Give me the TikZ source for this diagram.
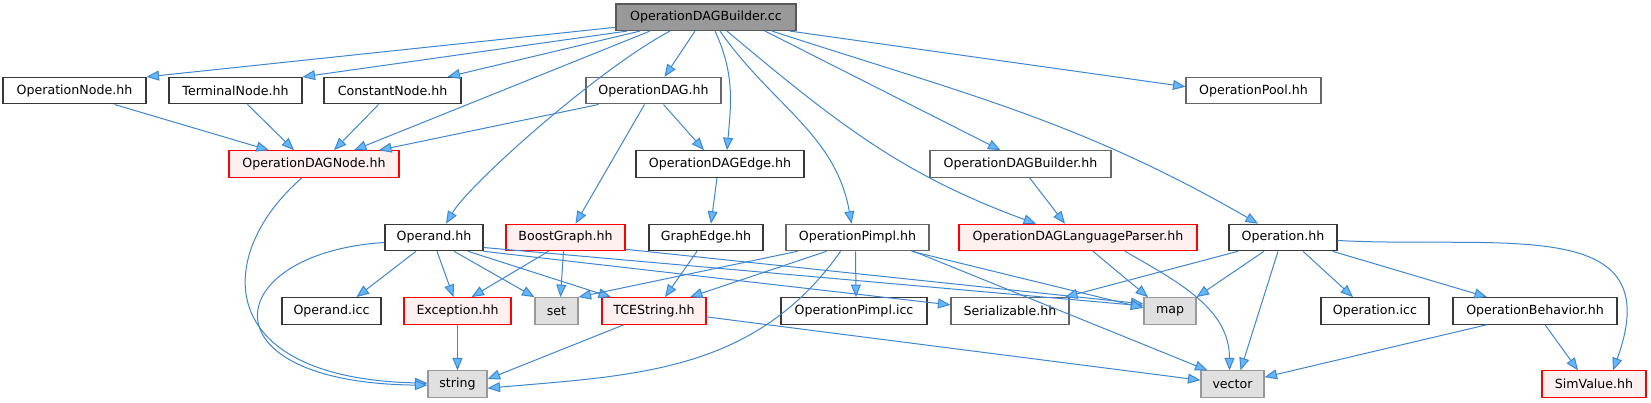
\documentclass[tikz,border=0pt]{standalone}
\usepackage{fontspec}
\setmainfont{DejaVu Sans}
\usepackage{tikz}
\usetikzlibrary{arrows.meta,calc}

\definecolor{edgeblue}{HTML}{3F86CF}
\definecolor{tipblue}{HTML}{63B8FF}
\definecolor{rootfill}{HTML}{999999}
\definecolor{sysfill}{HTML}{E0E0E0}
\definecolor{truncfill}{HTML}{FFF0F0}

\tikzset{
  filebox/.style={draw=black!60, fill=white, line width=1.1pt, minimum height=26.5pt,
    inner sep=0pt, font=\fontsize{12.6}{15}\selectfont},
  darkbox/.style={filebox, draw=black!78},
  rootbox/.style={filebox, draw=black!65, fill=rootfill},
  truncbox/.style={filebox, draw=red, fill=truncfill},
  sysbox/.style={filebox, draw=black!40, fill=sysfill},
  incl/.style={draw=edgeblue, line width=1pt,
    -{Triangle[length=12.5pt,width=10pt,fill=tipblue]}}
}

\begin{document}
\begin{tikzpicture}[x=1pt,y=1pt]

\useasboundingbox (0,0) rectangle (1651,403);

\node[rootbox, minimum width=180pt] (builderCC) at (706, 385.7) {OperationDAGBuilder.cc};

\node[darkbox, minimum width=143pt] (opNode) at (74.5, 312.3) {OperationNode.hh};
\node[darkbox, minimum width=133pt] (termNode) at (235.5, 312.3) {TerminalNode.hh};
\node[darkbox, minimum width=137pt] (constNode) at (392.5, 312.3) {ConstantNode.hh};
\node[filebox, minimum width=135pt] (opDAG) at (653.5, 312.3) {OperationDAG.hh};
\node[filebox, minimum width=135pt] (opPool) at (1253.5, 312.3) {OperationPool.hh};

\node[truncbox, minimum width=170pt] (dagNode) at (314, 239) {OperationDAGNode.hh};
\node[darkbox, minimum width=168pt] (dagEdge) at (720, 239) {OperationDAGEdge.hh};
\node[filebox, minimum width=181pt] (builderHH) at (1020.5, 239) {OperationDAGBuilder.hh};

\node[darkbox, minimum width=98pt] (operand) at (434, 165.5) {Operand.hh};
\node[truncbox, minimum width=119pt] (boostGraph) at (565.5, 165.5) {BoostGraph.hh};
\node[darkbox, minimum width=114pt] (graphEdge) at (706, 165.5) {GraphEdge.hh};
\node[filebox, minimum width=143pt] (opPimpl) at (857.5, 165.5) {OperationPimpl.hh};
\node[truncbox, minimum width=238pt] (langParser) at (1078, 165.5) {OperationDAGLanguageParser.hh};
\node[darkbox, minimum width=108pt] (operation) at (1283, 165.5) {Operation.hh};

\node[darkbox, minimum width=99pt] (operandICC) at (331.5, 92.1) {Operand.icc};
\node[truncbox, minimum width=107pt] (exception) at (457.5, 92.1) {Exception.hh};
\node[sysbox, minimum width=43pt] (setH) at (556.5, 92.1) {set};
\node[truncbox, minimum width=104pt] (tceString) at (654, 92.1) {TCEString.hh};
\node[darkbox, minimum width=146pt] (opPimplICC) at (854, 92.1) {OperationPimpl.icc};
\node[filebox, minimum width=118pt] (serializable) at (1010, 92.1) {Serializable.hh};
\node[sysbox, minimum width=52pt] (mapH) at (1170, 92.1) {map};
\node[darkbox, minimum width=108pt] (operationICC) at (1375, 92.1) {Operation.icc};
\node[darkbox, minimum width=164pt] (opBehavior) at (1535, 92.1) {OperationBehavior.hh};

\node[sysbox, minimum width=59pt] (stringH) at (457.5, 18.8) {string};
\node[sysbox, minimum width=63pt] (vectorH) at (1232.5, 18.8) {vector};
\node[truncbox, minimum width=104pt] (simValue) at (1594, 18.8) {SimValue.hh};

% includes of the .cc file
\draw[incl] ($ (builderCC.west) + (0, -10) $) -- (opNode.north east);
\draw[incl] ($ (builderCC.south) + (-79, 0) $) -- (termNode.north east);
\draw[incl] ($ (builderCC.south) + (-66, 0) $) -- ($ (constNode.north east) + (-14, 0) $);
\draw[incl] ($ (builderCC.south) + (-56, 0) $) -- ($ (dagNode.north) + (40, 0) $);
\draw[incl] ($ (builderCC.south) + (-36, 0) $) .. controls (600, 335) and (470, 220) .. ($ (operand.north) + (12, 0) $);
\draw[incl] ($ (builderCC.south) + (-11, 0) $) -- ($ (opDAG.north) + (11, 0) $);
\draw[incl] ($ (builderCC.south) + (9, 0) $) to[out=-65, in=85] ($ (dagEdge.north) + (7, 0) $);
\draw[incl] ($ (builderCC.south) + (14, 0) $) to[out=-55, in=100] ($ (opPimpl.north) + (-6, 0) $);
\draw[incl] ($ (builderCC.south) + (21, 0) $) to[out=-40, in=160] ($ (langParser.north) + (-42, 0) $);
\draw[incl] ($ (builderCC.south) + (59, 0) $) -- ($ (builderHH.north) + (-20, 0) $);
\draw[incl] ($ (builderCC.south) + (66, 0) $) to[out=-18, in=150] ($ (operation.north) + (-25, 0) $);
\draw[incl] ($ (builderCC.south) + (84, 0) $) -- ($ (opPool.west) + (0, 4) $);

\draw[incl] ($ (opNode.south) + (40, 0) $) -- ($ (dagNode.north) + (-45, 0) $);
\draw[incl] ($ (termNode.south) + (12, 0) $) -- ($ (dagNode.north) + (-20, 0) $);
\draw[incl] ($ (constNode.south) + (-14, 0) $) -- ($ (dagNode.north) + (20, 0) $);
\draw[incl] ($ (opDAG.south) + (-55, 0) $) -- ($ (dagNode.north) + (65, 0) $);
\draw[incl] ($ (opDAG.south) + (10, 0) $) -- ($ (dagEdge.north) + (-16, 0) $);
\draw[incl] ($ (opDAG.south) + (-9, 0) $) -- ($ (boostGraph.north) + (10, 0) $);
\draw[incl] ($ (dagNode.south) + (-12, 0) $) .. controls (215, 150) and (210, 25) .. ($ (stringH.west) + (0, 1) $);
\draw[incl] ($ (dagEdge.south) + (-3, 0) $) -- ($ (graphEdge.north) + (5, 0) $);
\draw[incl] ($ (builderHH.south) + (9, 0) $) -- ($ (langParser.north) + (-13, 0) $);

% Operand.hh
\draw[incl] ($ (operand.west) + (0, -5) $) .. controls (220, 150) and (200, 20) .. ($ (stringH.west) + (0, -1) $);
\draw[incl] ($ (operand.south) + (-18, 0) $) -- ($ (operandICC.north) + (25, 0) $);
\draw[incl] ($ (operand.south) + (3, 0) $) -- ($ (exception.north) + (-4, 0) $);
\draw[incl] ($ (operand.south) + (20, 0) $) -- (setH.north west);
\draw[incl] ($ (operand.south) + (34, 0) $) -- ($ (tceString.north) + (-43, 0) $);
\draw[incl] (operand.south east) -- ($ (serializable.west) + (0, 6) $);
\draw[incl] ($ (operand.east) + (0, -10) $) -- ($ (mapH.west) + (0, 5) $);

\draw[incl] ($ (boostGraph.south) + (-2, 0) $) -- ($ (setH.north) + (4, 0) $);
\draw[incl] ($ (boostGraph.south) + (-17, 0) $) -- ($ (exception.north) + (14, 0) $);
\draw[incl] ($ (boostGraph.south east) + (0, 2) $) -- ($ (mapH.west) + (0, 7) $);
\draw[incl] ($ (graphEdge.south) + (-9, 0) $) -- ($ (tceString.north) + (11, 0) $);

% OperationPimpl.hh
\draw[incl] ($ (opPimpl.south) + (-60, 0) $) -- (setH.north east);
\draw[incl] ($ (opPimpl.south) + (-31, 0) $) -- ($ (tceString.north) + (36, 0) $);
\draw[incl] ($ (opPimpl.south) + (-17, 0) $) to[out=-125, in=5] ($ (stringH.east) + (0, -4) $);
\draw[incl] ($ (opPimpl.south) + (-2, 0) $) -- ($ (opPimplICC.north) + (2, 0) $);
\draw[incl] ($ (opPimpl.south east) + (-18, 0) $) -- ($ (mapH.west) + (0, 3) $);
\draw[incl] ($ (opPimpl.south east) + (-16, 0) $) -- ($ (vectorH.north) + (-25, 0) $);

\draw[incl] (exception) -- (stringH);
\draw[incl] ($ (tceString.south) + (-30, 0) $) -- ($ (stringH.east) + (0, 5) $);
\draw[incl] ($ (tceString.east) + (0, -6) $) -- ($ (vectorH.west) + (0, 4) $);

\draw[incl] ($ (langParser.south) + (15, 0) $) -- ($ (mapH.north) + (-22, 0) $);
\draw[incl] ($ (langParser.south) + (47, 0) $) to[out=-30, in=90] ($ (vectorH.north) + (-3, 0) $);

% Operation.hh
\draw[incl] ($ (operation.south) + (-45, 0) $) -- ($ (serializable.north) + (55, 0) $);
\draw[incl] ($ (operation.south) + (-19, 0) $) -- (mapH.north east);
\draw[incl] ($ (operation.south) + (-5, 0) $) -- ($ (vectorH.north) + (8, 0) $);
\draw[incl] ($ (operation.south) + (20, 0) $) -- ($ (operationICC.north) + (-22, 0) $);
\draw[incl] ($ (operation.south east) + (-5, 0) $) -- ($ (opBehavior.north) + (-48, 0) $);
\draw[incl] ($ (operation.east) + (0, -3) $) to[out=-3, in=70, looseness=1.4] ($ (simValue.north) + (19, 0) $);

\draw[incl] ($ (opBehavior.south) + (-48, 0) $) -- ($ (vectorH.east) + (0, 7) $);
\draw[incl] ($ (opBehavior.south) + (10, 0) $) -- ($ (simValue.north) + (-16, 0) $);

\end{tikzpicture}
\end{document}
